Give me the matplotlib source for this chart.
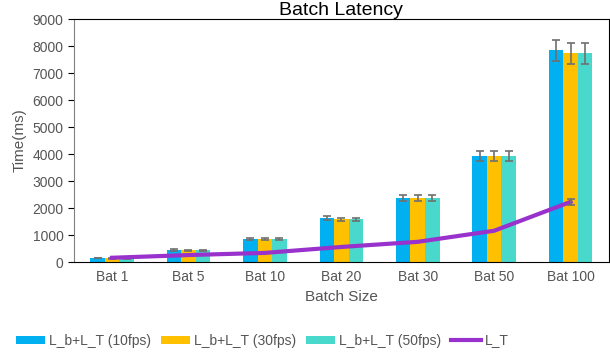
import numpy as np
import matplotlib.pyplot as plt

plt.rcParams['font.family'] = ['Liberation Sans', 'DejaVu Sans']

## values
batches = ["Bat 1", "Bat 5", "Bat 10", "Bat 20", "Bat 30", "Bat 50", "Bat 100"]
fps10 = [150, 450, 840, 1620, 2380, 3930, 7850]
fps30 = [140, 440, 840, 1580, 2370, 3930, 7730]
fps50 = [140, 440, 840, 1580, 2370, 3930, 7730]
err10 = [15, 25, 40, 70, 120, 190, 390]
err30 = [15, 25, 40, 70, 120, 190, 390]
err50 = [15, 25, 40, 70, 120, 190, 390]
lt = [160, 260, 340, 560, 750, 1160, 2230]
lt_err = [0, 0, 0, 0, 0, 0, 100]

series = [("L_b+L_T (10fps)", fps10, err10, "#00B0F0"),
          ("L_b+L_T (30fps)", fps30, err30, "#FFC000"),
          ("L_b+L_T (50fps)", fps50, err50, "#48D9CC")]

fig = plt.figure(figsize=(6.1, 3.6), dpi=100)
ax = fig.add_axes([0.121, 0.272, 0.877, 0.675])

x = np.arange(len(batches))
w = 0.19
handles = []
for i, (name, vals, errs, col) in enumerate(series):
    b = ax.bar(x + (i - 1) * w, vals, w, color=col, label=name,
               yerr=errs, error_kw=dict(ecolor="#707070", capsize=3, elinewidth=1.2, capthick=1.2))
    handles.append(b)

line, = ax.plot(x, lt, color="#9932CC", lw=3, label="L_T", zorder=3)
handles.append(line)
ax.errorbar(x[-1:], lt[-1:], yerr=lt_err[-1:], fmt="none", ecolor="#707070",
            capsize=3, elinewidth=1.2, capthick=1.2, zorder=4)

ax.set_xlim(-0.5, 6.5)
ax.set_ylim(0, 9000)
ax.set_yticks(range(0, 9001, 1000))
ax.set_xticks(x)
ax.set_xticklabels(batches)
ax.tick_params(axis="x", length=0, labelcolor="#555555", labelsize=10, pad=6)
ax.tick_params(axis="y", length=4, direction="out", labelcolor="#555555", labelsize=10)
ax.spines["left"].set_color("#808080")
ax.set_xlabel("Batch Size", color="#555555", fontsize=11)
ax.set_ylabel("Time(ms)", color="#555555", fontsize=11)
ax.set_title("Batch Latency", fontsize=14, pad=1)

fig.legend(handles=handles, loc="lower center", bbox_to_anchor=(0.43, 0.0), ncol=4,
           frameon=False, fontsize=10, handlelength=2.1, handleheight=0.5,
           handletextpad=0.3, columnspacing=0.7, labelcolor="#555555")

fig.savefig("out.png")
